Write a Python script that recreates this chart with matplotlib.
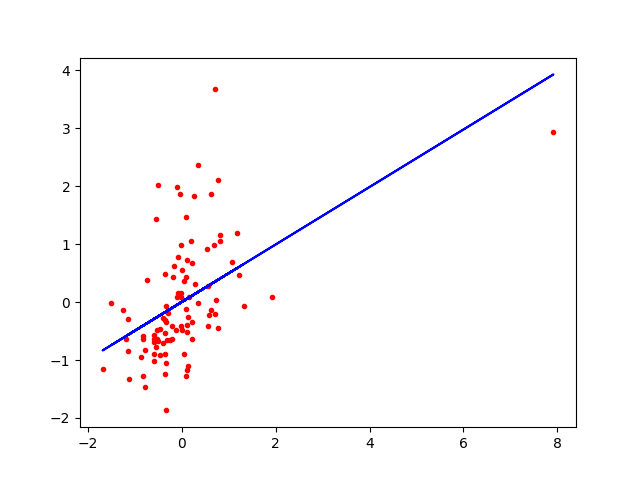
import numpy as np
import matplotlib
matplotlib.use("Agg")
import matplotlib.pyplot as plt

x = np.array([0.70, 0.34, 0.78, -0.50, -0.11, -0.03, 0.25, 0.63, 7.92, 1.92,
              -0.56, 0.08, 0.81, 1.17, -0.01, 0.19, 0.53, 0.68, 0.81, -0.09,
              0.10, 0.21, -0.16, 1.06, 0.01, -0.35, -0.18, 0.08, 0.04, 1.21,
              -0.75, 0.29, 0.55, -0.09, -0.01, -0.11, -0.01, 0.16, 0.34, 0.72,
              -1.50, -1.25, -0.33, 0.08, 0.63, 1.32, -1.14, -0.30, 0.14, 0.57,
              0.70, -0.40, -0.35, -0.33, 0.21, -0.01, 0.12, -0.20, -0.13, 0.01,
              0.12, 0.55, 0.78, -0.82, -0.82, -1.18, -0.60, -0.54, -0.46, -0.60,
              -0.60, -0.52, -0.50, -0.35, -0.26, -0.31, -0.20, -0.41, -0.56, 0.21,
              -1.14, -0.78, -0.88, -0.60, -0.46, -0.35, 0.04, -0.60, -0.33, -1.69,
              0.14, 0.12, -1.12, -0.82, -0.35, 0.08, -0.78, -0.33])
y = np.array([3.68, 2.37, 2.10, 2.03, 1.99, 1.86, 1.84, 1.87, 2.94, 0.08,
              1.44, 1.47, 1.16, 1.20, 0.98, 1.05, 0.91, 0.98, 1.05, 0.77,
              0.72, 0.68, 0.63, 0.70, 0.55, 0.48, 0.43, 0.43, 0.36, 0.46,
              0.39, 0.31, 0.27, 0.15, 0.15, 0.09, 0.09, 0.08, -0.01, 0.03,
              -0.02, -0.13, -0.07, -0.12, -0.14, -0.06, -0.30, -0.19, -0.25, -0.23,
              -0.21, -0.28, -0.31, -0.35, -0.35, -0.42, -0.40, -0.42, -0.49, -0.49,
              -0.52, -0.42, -0.44, -0.59, -0.63, -0.63, -0.56, -0.49, -0.47, -0.63,
              -0.69, -0.63, -0.68, -0.54, -0.66, -0.66, -0.63, -0.71, -0.78, -0.63,
              -0.85, -0.83, -0.94, -0.90, -0.92, -0.90, -0.90, -1.02, -1.06, -1.16,
              -1.11, -1.18, -1.32, -1.28, -1.25, -1.28, -1.47, -1.87])

slope = 0.496
intercept = 0.003

fig, ax = plt.subplots(figsize=(6.4, 4.8), dpi=100)
ax.plot(x, y, 'r.')
ax.plot(x, slope * x + intercept, 'b')
fig.savefig("out.png")
